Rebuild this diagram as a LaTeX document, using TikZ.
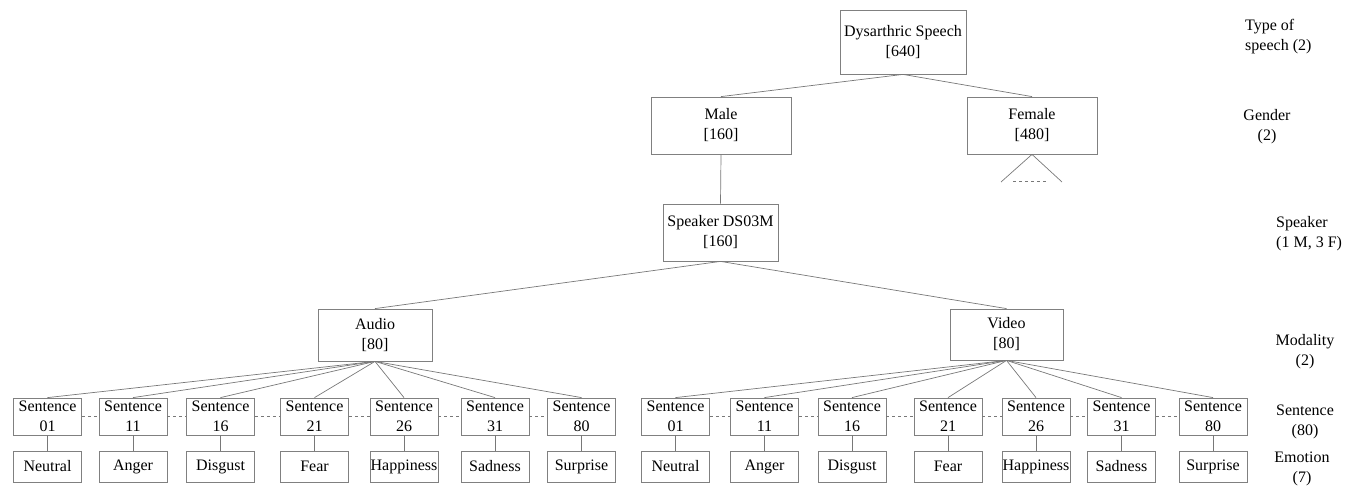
\documentclass[tikz,border=0pt]{standalone}
\usepackage{fontspec}
\setmainfont{Liberation Serif}
\newfontfamily\tnrfont{Liberation Serif}
\begin{document}
\begin{tikzpicture}[x=1pt,y=-1pt,
  every node/.style={font=\tnrfont\fontsize{16}{20}\selectfont, text=black},
  box/.style={draw=boxgray, line width=0.8pt, rectangle, inner sep=0pt, align=center},
  sbox/.style={box, minimum width=68pt, minimum height=37pt},
  ebox/.style={box, minimum width=68pt, minimum height=31pt},
  link/.style={draw=linegray, line width=0.7pt},
  dots/.style={link, dash pattern=on 3pt off 3pt},
  lab/.style={align=center, inner sep=0pt}]
\definecolor{boxgray}{RGB}{128,128,128}
\definecolor{linegray}{RGB}{120,120,120}
\useasboundingbox (0,0) rectangle (1360,486);

% upper levels
\node[box, minimum width=126pt, minimum height=64pt] (ds) at (903,42) {Dysarthric Speech\\{[640]}};
\node[box, minimum width=140pt, minimum height=57pt] (male) at (721,125.5) {Male\\{[160]}};
\node[box, minimum width=130pt, minimum height=57pt] (female) at (1032,125.5) {Female\\{[480]}};
\node[box, minimum width=115pt, minimum height=57pt] (spk) at (720.5,232.5) {Speaker DS03M\\{[160]}};
\node[box, minimum width=114pt, minimum height=52pt] (audio) at (375,335) {Audio\\{[80]}};
\node[box, minimum width=113pt, minimum height=51pt] (video) at (1006.5,334.5) {Video\\{[80]}};

\draw[link] (ds.south) -- (male.north);
\draw[link] (ds.south) -- (female.north);
\draw[link] (male.south) -- (spk.north);
\draw[link] (spk.south) -- (audio.north);
\draw[link] (spk.south) -- (video.north);

% female collapsed subtree
\coordinate (fl) at (1001,182);
\coordinate (fr) at (1062,182);
\coordinate (fdl) at (1013,181);
\coordinate (fdr) at (1047,181);
\draw[link] (female.south) -- (fl);
\draw[link] (female.south) -- (fr);
\draw[dots] (fdl) -- (fdr);

% audio branch
\foreach \x/\num/\emo [count=\i] in {47.5/01/Neutral, 133/11/Anger, 220.5/16/Disgust, 314.5/21/Fear, 404/26/Happiness, 495/31/Sadness, 581.5/80/Surprise}{
  \node[sbox] (as\i) at (\x,416.5) {Sentence\\\num};
  \node[ebox] (ae\i) at (\x,466.5) {\emo};
  \draw[link] (audio.south) -- (as\i.north);
  \draw[link] (as\i.south) -- (ae\i.north);
}
% video branch
\foreach \x/\num/\emo [count=\i] in {675.5/01/Neutral, 764.5/11/Anger, 852/16/Disgust, 948/21/Fear, 1036/26/Happiness, 1121.5/31/Sadness, 1213/80/Surprise}{
  \node[sbox] (vs\i) at (\x,416.5) {Sentence\\\num};
  \node[ebox] (ve\i) at (\x,466.5) {\emo};
  \draw[link] (video.south) -- (vs\i.north);
  \draw[link] (vs\i.south) -- (ve\i.north);
}
\foreach \i [evaluate=\i as \j using int(\i+1)] in {1,...,6}{
  \draw[dots] (as\i.east) -- (as\j.west);
  \draw[dots] (vs\i.east) -- (vs\j.west);
}

% level labels
\node[lab, align=left, anchor=west] (l1) at (1245,37) {Type of\\speech (2)};
\node[lab] (l2) at (1267,127) {Gender\\(2)};
\node[lab, align=left, anchor=west] (l3) at (1276,234) {Speaker\\(1 M, 3 F)};
\node[lab] (l4) at (1305,352) {Modality\\(2)};
\node[lab] (l5) at (1305,422) {Sentence\\(80)};
\node[lab] (l6) at (1302,469) {Emotion\\(7)};
\end{tikzpicture}
\end{document}
